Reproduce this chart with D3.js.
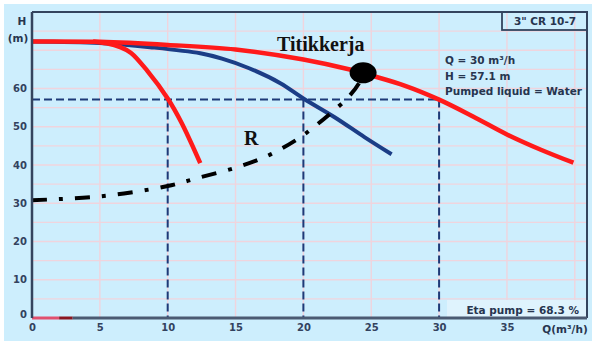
<!DOCTYPE html>
<html>
<head>
<meta charset="utf-8">
<script src="https://cdn.jsdelivr.net/npm/d3@7"></script>
<style>
  body { margin: 0; background: #fff; }
  svg { display: block; }
  .tick text { font-family: "DejaVu Sans", sans-serif; font-weight: bold; font-size: 10px; fill: #33425e; }
  .info { font-family: "DejaVu Sans", sans-serif; font-weight: bold; font-size: 10.5px; fill: #27354f; }
  .note { font-family: "Liberation Serif", serif; font-weight: bold; font-size: 20px; fill: #111; }
</style>
</head>
<body>
<svg id="chart" width="592" height="341"></svg>
<script>
// pump curve readings (Q in m3/h, H in m)
const redQ = [0, 5, 10, 15, 20, 23.5, 25, 27.5, 30, 32.5, 35, 37.5, 39.9];
const redH = [72.3, 72.2, 71.4, 70.2, 67.6, 64.9, 63.4, 60.7, 57.1, 52.7, 48, 44, 40.6];

const blueQ = [0, 5, 8.7, 12.4, 14, 16, 18.3, 20, 22.3, 24.5, 26.5];
const blueH = [72.3, 71.9, 70.8, 69.2, 67.8, 65.3, 61.4, 57.4, 52.5, 47.3, 42.8];

const steepQ = [4.5, 5.5, 6.5, 7.3, 8.5, 10, 11, 12.4];
const steepH = [72.3, 71.8, 70.8, 69.3, 64.6, 57.4, 51.2, 40.5];

// system curve R
const sysQ = [0, 5, 10, 12.4, 15.1, 17.3, 19.5, 20.8, 22.1, 23.3, 24.1, 24.9];
const sysH = [30.8, 31.8, 34.5, 36.8, 39.4, 42.3, 46.6, 50, 53.8, 57.7, 61.4, 67.6];

const dutyQ = 30, dutyH = 57.1;
const guideQ = [10, 20, 30];
const pointQ = 24.4, pointH = 64.1;

const xTicks = [0, 5, 10, 15, 20, 25, 30, 35];
const yTicks = [0, 10, 20, 30, 40, 50, 60];
const gridQ = [5, 10, 15, 20, 25, 30, 35, 40];
const gridH = [5, 10, 15, 20, 25, 30, 35, 40, 45, 50, 55, 60, 65, 70, 75];

const infoLines = ['Q = 30 m³/h', 'H = 57.1 m', 'Pumped liquid = Water'];

const svg = d3.select('#chart');
const plot = {left: 32, right: 587, top: 12, bottom: 318};

const x = d3.scaleLinear().domain([0, 40.9]).range([plot.left, plot.right]);
const y = d3.scaleLinear().domain([0, 80]).range([plot.bottom, plot.top]);

svg.append('rect')
  .attr('x', 4).attr('y', 4).attr('width', 588).attr('height', 337)
  .attr('fill', '#cdeefd');

// grid
svg.append('g').selectAll('line').data(gridQ).join('line')
  .attr('x1', d => x(d)).attr('x2', d => x(d))
  .attr('y1', plot.top).attr('y2', plot.bottom)
  .attr('stroke', '#f0d4dd').attr('stroke-width', 1.4);
svg.append('g').selectAll('line').data(gridH).join('line')
  .attr('x1', plot.left).attr('x2', plot.right)
  .attr('y1', d => y(d)).attr('y2', d => y(d))
  .attr('stroke', '#f0d4dd').attr('stroke-width', 1.4);

// eta box
svg.append('rect')
  .attr('x', 447).attr('y', 300).attr('width', plot.right - 447).attr('height', plot.bottom - 300)
  .attr('fill', '#dff3fd');

// guide dashed lines
const guide = svg.append('g').attr('stroke', '#1d3a78').attr('stroke-width', 2)
  .attr('stroke-dasharray', '8,4').attr('fill', 'none');
guide.append('line')
  .attr('x1', plot.left).attr('x2', x(dutyQ))
  .attr('y1', y(dutyH)).attr('y2', y(dutyH));
guide.selectAll('line.v').data(guideQ).join('line')
  .attr('class', 'v')
  .attr('x1', d => x(d)).attr('x2', d => x(d))
  .attr('y1', y(dutyH)).attr('y2', plot.bottom);

const line = d3.line()
  .x(d => x(d[0]))
  .y(d => y(d[1]))
  .curve(d3.curveCatmullRom.alpha(0.5));

const zip = (a, b) => a.map((v, i) => [v, b[i]]);

svg.append('path')
  .attr('d', line(zip(blueQ, blueH)))
  .attr('fill', 'none').attr('stroke', '#1b3d86').attr('stroke-width', 4);

svg.append('path')
  .attr('d', line(zip(steepQ, steepH)))
  .attr('fill', 'none').attr('stroke', '#ff1a1a').attr('stroke-width', 4.5);

svg.append('path')
  .attr('d', line(zip(redQ, redH)))
  .attr('fill', 'none').attr('stroke', '#ff1a1a').attr('stroke-width', 4.5);

svg.append('path')
  .attr('d', line(zip(sysQ, sysH)))
  .attr('fill', 'none').attr('stroke', '#000').attr('stroke-width', 4)
  .attr('stroke-dasharray', '15,12,4,12');

// operating point blob
svg.append('ellipse')
  .attr('cx', x(pointQ)).attr('cy', y(pointH))
  .attr('rx', 13.5).attr('ry', 10.5).attr('fill', '#000');

// efficiency stub on axis
svg.append('line')
  .attr('x1', x(0)).attr('x2', x(2)).attr('y1', plot.bottom).attr('y2', plot.bottom)
  .attr('stroke', '#e0506e').attr('stroke-width', 3);
svg.append('line')
  .attr('x1', x(2)).attr('x2', x(3)).attr('y1', plot.bottom).attr('y2', plot.bottom)
  .attr('stroke', '#8a1620').attr('stroke-width', 3);

// frame
svg.append('path')
  .attr('d', `M${plot.left},${plot.top}H${plot.right}V${plot.bottom}`)
  .attr('fill', 'none').attr('stroke', '#34445e').attr('stroke-width', 2);
svg.append('line')
  .attr('x1', plot.left).attr('x2', plot.left).attr('y1', plot.top).attr('y2', plot.bottom)
  .attr('stroke', '#34445e').attr('stroke-width', 2.5);
svg.append('line')
  .attr('x1', x(3)).attr('x2', plot.right).attr('y1', plot.bottom).attr('y2', plot.bottom)
  .attr('stroke', '#4a5a72').attr('stroke-width', 3);

// axes
svg.append('g')
  .attr('transform', `translate(${plot.left - 5}, 0)`)
  .call(d3.axisLeft(y).tickValues(yTicks).tickSize(0).tickPadding(0))
  .call(g => g.select('.domain').remove())
  .call(g => g.selectAll('.tick').filter(d => d === 0).select('text').attr('dy', '-0.05em'));

svg.append('g')
  .attr('transform', `translate(0, ${plot.bottom + 4})`)
  .call(d3.axisBottom(x).tickValues(xTicks).tickSize(0).tickPadding(2))
  .call(g => g.select('.domain').remove());

svg.append('text').attr('class', 'info')
  .attr('x', 22).attr('y', 25).attr('text-anchor', 'middle').text('H');
svg.append('text').attr('class', 'info')
  .attr('x', 18).attr('y', 42).attr('text-anchor', 'middle').text('(m)');
svg.append('text').attr('class', 'info')
  .attr('x', 565).attr('y', 333).attr('text-anchor', 'middle').text('Q(m³/h)');

// model box
svg.append('rect')
  .attr('x', 502).attr('y', plot.top).attr('width', plot.right - 502).attr('height', 18)
  .attr('fill', 'none').attr('stroke', '#34445e').attr('stroke-width', 1.8);
svg.append('text').attr('class', 'info')
  .attr('x', 545).attr('y', 25).attr('text-anchor', 'middle').text('3" CR 10-7');

svg.append('g').selectAll('text').data(infoLines).join('text')
  .attr('class', 'info')
  .attr('x', 445).attr('y', (d, i) => 64 + i * 15.5)
  .text(d => d);

svg.append('text').attr('class', 'info')
  .attr('x', 579).attr('y', 314).attr('text-anchor', 'end').text('Eta pump = 68.3 %');

svg.append('text').attr('class', 'note')
  .attr('x', 277).attr('y', 51).text('Titikkerja');
svg.append('text').attr('class', 'note')
  .attr('x', 244).attr('y', 145).text('R');
</script>
</body>
</html>
